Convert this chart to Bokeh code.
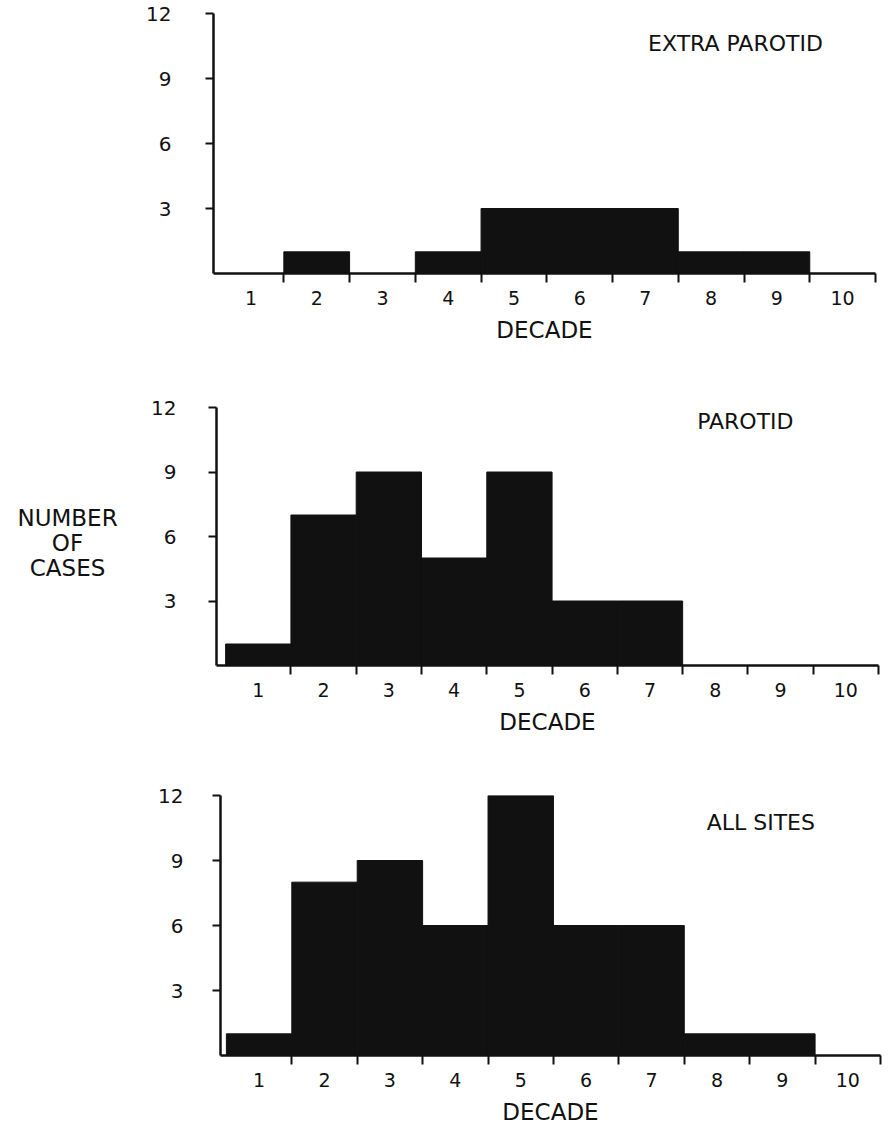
from bokeh.plotting import figure
from bokeh.layouts import column, row
from bokeh.models import FixedTicker, Label, Range1d, Spacer
from bokeh.core.properties import value
from bokeh.embed import file_html
from bokeh.resources import INLINE

# ---- data ----
decades = [1, 2, 3, 4, 5, 6, 7, 8, 9, 10]
extra_parotid = [0, 1, 0, 1, 3, 3, 3, 1, 1, 0]
parotid = [1, 7, 9, 5, 9, 3, 3, 0, 0, 0]
all_sites = [1, 8, 9, 6, 12, 6, 6, 1, 1, 0]
y_ticks = [3, 6, 9, 12]
panel_titles = ["EXTRA PAROTID", "PAROTID", "ALL SITES"]
x_label = "DECADE"
y_label = "NUMBER\nOF\nCASES"

FONT = "DejaVu Sans"
INK = "#111111"
PAGE_W = 889

# layout specs:
# (values, left offset, border_left, border_top, frame_h, border_bottom, frame_right,
#  x_start, y_label_standoff, title_x, title_y)
specs = [
    (extra_parotid, 133, 80, 13, 260, 79, 875, 0.43, 34, 8.37, 10.6),
    (parotid, 136, 80, 55, 258, 80, 878, 0.36, 32, 8.46, 11.35),
    (all_sites, 140, 80, 50, 262, 70, 880, 0.41, 29, 8.67, 10.76),
]

rows = []
for i, (vals, off, bl, bt, fh, bb, fr, x0, ystand, tx, ty) in enumerate(specs):
    W = PAGE_W - off
    H = bt + fh + bb
    p = figure(width=W, height=H, output_backend="svg", toolbar_location=None,
               x_range=Range1d(x0, 10.5), y_range=Range1d(0, 12),
               min_border_left=bl, min_border_right=PAGE_W - fr, min_border_top=bt,
               min_border_bottom=bb)
    p.outline_line_color = None
    p.grid.visible = False

    lefts = [max(d - 0.5, x0) for d in decades]
    rights = [d + 0.5 for d in decades]
    p.quad(left=lefts, right=rights, bottom=0, top=vals,
           fill_color=INK, line_color=INK, line_width=1)

    xa = p.xaxis[0]
    xa.ticker = FixedTicker(ticks=decades, minor_ticks=[d + 0.5 for d in decades])
    xa.major_tick_out = 0
    xa.major_tick_in = 0
    xa.minor_tick_out = 9
    xa.minor_tick_in = 0
    xa.minor_tick_line_width = 2
    xa.minor_tick_line_color = INK
    xa.axis_line_width = 2.5
    xa.axis_line_color = INK
    xa.major_label_text_font = FONT
    xa.major_label_text_font_size = "19px"
    xa.major_label_text_color = INK
    xa.major_label_standoff = 8
    xa.axis_label = x_label
    xa.axis_label_text_font = FONT
    xa.axis_label_text_font_size = "23px"
    xa.axis_label_text_font_style = "normal"
    xa.axis_label_text_color = INK
    xa.axis_label_standoff = 9

    ya = p.yaxis[0]
    ya.ticker = FixedTicker(ticks=y_ticks)
    ya.minor_tick_out = 0
    ya.minor_tick_in = 0
    ya.major_tick_out = 8
    ya.major_tick_in = 0
    ya.major_tick_line_width = 2
    ya.major_tick_line_color = INK
    ya.axis_line_width = 2.5
    ya.axis_line_color = INK
    ya.major_label_text_font = FONT
    ya.major_label_text_font_size = "20px"
    ya.major_label_text_color = INK
    ya.major_label_standoff = ystand

    p.add_layout(Label(x=tx, y=ty, text=panel_titles[i], text_font=FONT,
                       text_font_size="22px", text_align="center",
                       text_baseline="middle", text_color=INK))

    if i == 1:
        fl = figure(width=off, height=H, output_backend="svg", toolbar_location=None,
                    x_range=Range1d(0, 1), y_range=Range1d(0, 1),
                    min_border=0, x_axis_type=None, y_axis_type=None)
        fl.outline_line_color = None
        fl.grid.visible = False
        fl.text(x=[0.493], y=[0.475], text=[y_label], text_font=value(FONT),
                text_font_size="23px", text_align="center", text_baseline="middle",
                text_line_height=0.95, text_color=INK)
        rows.append(row(fl, p, spacing=0))
    else:
        rows.append(row(Spacer(width=off, height=H), p, spacing=0))

layout = column(*rows, spacing=0)
open("out.html", "w").write(file_html(layout, INLINE))
